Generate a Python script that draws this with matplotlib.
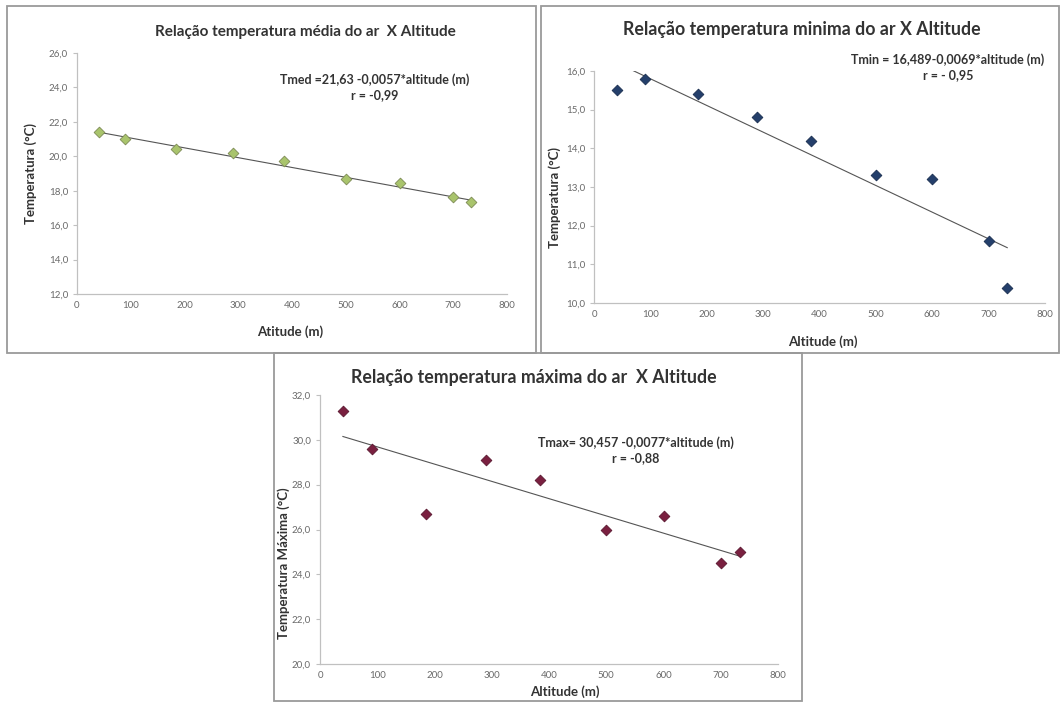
import matplotlib
matplotlib.use('Agg')
import matplotlib.pyplot as plt
from matplotlib.patches import Rectangle

plt.rcParams['font.family'] = ['Lato', 'DejaVu Sans']

# altitude of the stations (m)
altitude = [40, 90, 185, 290, 385, 500, 600, 700, 733]

# temperatures (deg C)
t_med = [21.4, 21.0, 20.45, 20.2, 19.75, 18.7, 18.45, 17.65, 17.35]
t_min = [15.5, 15.8, 15.4, 14.8, 14.2, 13.3, 13.2, 11.6, 10.4]
t_max = [31.3, 29.6, 26.7, 29.1, 28.2, 26.0, 26.6, 24.5, 25.0]

# regression coefficients (intercept, slope)
fit_med = (21.63, -0.0057)
fit_min = (16.489, -0.0069)
fit_max = (30.457, -0.0077)

x_ticks = [0, 100, 200, 300, 400, 500, 600, 700, 800]

W, H = 1060, 702
fig = plt.figure(figsize=(W / 100, H / 100), dpi=100)
fig.patch.set_facecolor('white')


def px_rect(l, t, r, b):
    return [l / W, 1 - b / H, (r - l) / W, (b - t) / H]


def frame(l, t, r, b):
    fig.patches.append(Rectangle((l / W, 1 - b / H), (r - l) / W, (b - t) / H,
                                 transform=fig.transFigure, fill=False,
                                 edgecolor='#9a9a9a', linewidth=1.3))


def panel(box, y, fit, ylim, ystep, color, edge, title, title_pos, title_fs,
          eq, eq_pos, xlabel, xlab_pos, ylabel, ylab_pos):
    ax = fig.add_axes(px_rect(*box))
    a, b = fit
    xs = [min(altitude), max(altitude)]
    ax.plot(xs, [a + b * v for v in xs], color='#555555', linewidth=0.8, zorder=2)
    ax.scatter(altitude, y, marker='D', s=30, color=color, edgecolors=edge,
               linewidths=0.6, zorder=3)
    ax.set_xlim(0, 800)
    ax.set_ylim(*ylim)
    ax.set_xticks(x_ticks)
    yt = []
    v = ylim[0]
    while v <= ylim[1] + 1e-9:
        yt.append(v)
        v += ystep
    ax.set_yticks(yt)
    ax.set_yticklabels([f'{v:.1f}'.replace('.', ',') for v in yt])
    for s in ('top', 'right'):
        ax.spines[s].set_visible(False)
    for s in ('left', 'bottom'):
        ax.spines[s].set_color('#c0c0c0')
        ax.spines[s].set_linewidth(0.9)
    ax.tick_params(axis='both', labelsize=7, colors='#c0c0c0', labelcolor='#6a6a6a',
                   length=3, width=0.8)
    ax.tick_params(axis='x', length=0, pad=5)
    ax.patch.set_alpha(0)

    fig.text(title_pos[0] / W, 1 - title_pos[1] / H, title, ha='center', va='center',
             fontsize=title_fs, fontweight='bold', color='#333333')
    fig.text(eq_pos[0] / W, 1 - eq_pos[1] / H, eq, ha='center', va='center',
             fontsize=9, fontweight='bold', color='#333333', linespacing=1.25)
    fig.text(xlab_pos[0] / W, 1 - xlab_pos[1] / H, xlabel, ha='center', va='center',
             fontsize=9.5, fontweight='bold', color='#333333')
    fig.text(ylab_pos[0] / W, 1 - ylab_pos[1] / H, ylabel, ha='center', va='center',
             rotation=90, fontsize=9.5, fontweight='bold', color='#333333')
    return ax


frame(7, 6, 536, 353)
frame(541, 6, 1059, 353)
frame(274, 353, 802, 701)

panel((77, 53, 507, 294), t_med, fit_med, (12, 26), 2, '#a9c46c', '#7d8a55',
      'Relação temperatura média do ar  X Altitude', (305, 32), 11,
      'Tmed =21,63 -0,0057*altitude (m)\nr = -0,99', (375, 87),
      'Atitude (m)', (290, 332), 'Temperatura (°C)', (31, 173))

panel((594, 71, 1045, 303), t_min, fit_min, (10, 16), 1, '#243f6b', '#1a2e50',
      'Relação temperatura minima do ar X Altitude', (802, 30), 12.8,
      'Tmin = 16,489-0,0069*altitude (m)\nr = - 0,95', (948, 67),
      'Altitude (m)', (823, 342), 'Temperatura (°C)', (555, 197))

panel((320, 395, 778, 664), t_max, fit_max, (20, 32), 2, '#7a2040', '#5a1830',
      'Relação temperatura máxima do ar  X Altitude', (534, 378), 12.8,
      'Tmax= 30,457 -0,0077*altitude (m)\nr = -0,88', (636, 450),
      'Altitude (m)', (565, 692), 'Temperatura Máxima (°C)', (284, 563))

fig.savefig('out.png', dpi=100)
